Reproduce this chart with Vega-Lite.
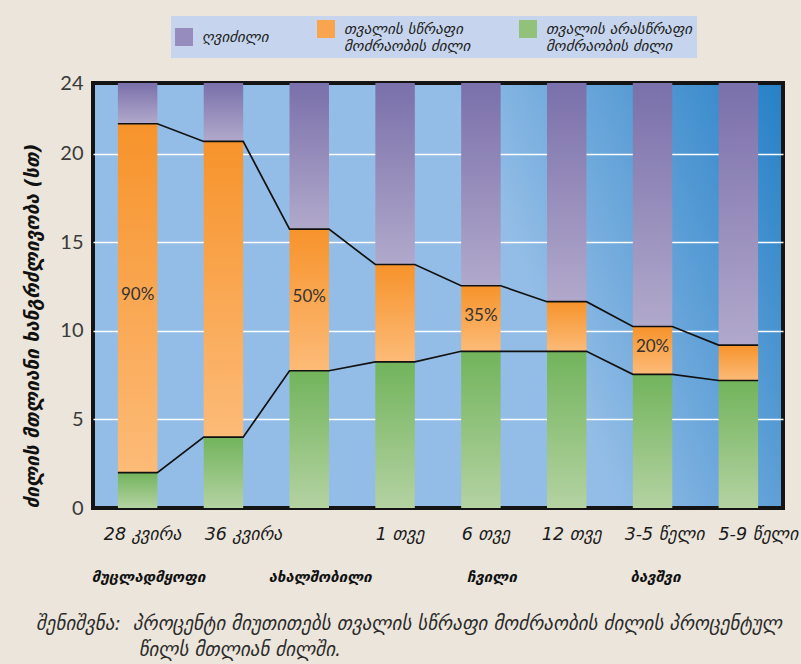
{
  "$schema": "https://vega.github.io/schema/vega-lite/v6.json",
  "width": 690,
  "height": 425,
  "autosize": {"type": "none"},
  "padding": {"left": 93, "top": 83, "right": 18, "bottom": 156},
  "background": "#ebe5db",
  "view": {
    "fill": {
      "gradient": "linear",
      "x1": 0.64, "y1": 0.5, "x2": 1.095, "y2": 0.3875,
      "stops": [
        {"offset": 0, "color": "#93bde6"},
        {"offset": 1, "color": "#2680c6"}
      ]
    },
    "stroke": "#141414",
    "strokeWidth": 4
  },
  "title": {
    "text": [
      "შენიშვნა:\u00a0 პროცენტი მიუთითებს თვალის სწრაფი მოძრაობის ძილის პროცენტულ",
      "\u200b\u00a0\u00a0\u00a0\u00a0\u00a0\u00a0\u00a0\u00a0\u00a0\u00a0\u00a0\u00a0\u00a0\u00a0\u00a0\u00a0\u00a0წილს მთლიან ძილში."
    ],
    "orient": "bottom",
    "anchor": "start",
    "frame": "group",
    "dx": -57,
    "offset": 31,
    "font": "DejaVu Sans",
    "fontSize": 19,
    "fontStyle": "italic",
    "fontWeight": "normal",
    "color": "#2b2b2b",
    "lineHeight": 26
  },
  "data": {
    "values": [
      {"stage": "28 კვირა", "nrem": 2.0, "sleep": 21.7, "pct": "90%"},
      {"stage": "36 კვირა", "nrem": 4.0, "sleep": 20.7},
      {"stage": "ახალშობილი", "nrem": 7.75, "sleep": 15.75, "pct": "50%"},
      {"stage": "1 თვე", "nrem": 8.25, "sleep": 13.75},
      {"stage": "6 თვე", "nrem": 8.85, "sleep": 12.55, "pct": "35%"},
      {"stage": "12 თვე", "nrem": 8.85, "sleep": 11.65},
      {"stage": "3-5 წელი", "nrem": 7.55, "sleep": 10.25, "pct": "20%"},
      {"stage": "5-9 წელი", "nrem": 7.2, "sleep": 9.2}
    ]
  },
  "resolve": {"axis": {"x": "independent"}},
  "layer": [
    {
      "mark": {
        "type": "bar",
        "fill": {
          "gradient": "linear", "x1": 0, "y1": 0, "x2": 0, "y2": 1,
          "stops": [{"offset": 0, "color": "#7a70ab"}, {"offset": 1, "color": "#b1a9cb"}]
        }
      },
      "encoding": {
        "x": {
          "field": "stage", "type": "ordinal", "sort": null,
          "scale": {"type": "band", "domain": ["28 კვირა", "36 კვირა", "ახალშობილი", "1 თვე", "6 თვე", "12 თვე", "3-5 წელი", "5-9 წელი"], "paddingInner": 0.54, "paddingOuter": 0.29},
          "axis": {
            "orient": "bottom", "title": null, "labelAngle": 0,
            "labelExpr": "datum.value === 'ახალშობილი' ? '' : datum.value",
            "labelFontSize": 17.5, "labelFontStyle": "italic", "labelColor": "#1a1a1a",
            "labelPadding": 17,
            "labelOffset": {"condition": [
              {"test": "datum.value === '36 კვირა' || datum.value === '5-9 წელი'", "value": 20},
              {"test": "datum.value === '3-5 წელი'", "value": 12}
            ], "value": 5},
            "ticks": false, "domain": false, "grid": false, "labelOverlap": false
          }
        },
        "y": {
          "field": "sleep", "type": "quantitative", "title": "ძილის მთლიანი ხანგრძლივობა (სთ)",
          "scale": {"domain": [0, 24], "nice": false, "zero": true},
          "axis": {"values": [0, 5, 10, 15, 20, 24], "gridOpacity": {"condition": {"test": "datum.value === 0 || datum.value === 24", "value": 0}, "value": 1}}
        },
        "y2": {"datum": 24}
      }
    },
    {
      "mark": {
        "type": "bar",
        "fill": {
          "gradient": "linear", "x1": 0, "y1": 0, "x2": 0, "y2": 1,
          "stops": [{"offset": 0, "color": "#f7932b"}, {"offset": 1, "color": "#fcbb78"}]
        }
      },
      "encoding": {
        "x": {"field": "stage", "type": "ordinal", "sort": null, "scale": {"type": "band"}, "axis": null},
        "y": {
          "field": "nrem", "type": "quantitative", "title": "ძილის მთლიანი ხანგრძლივობა (სთ)",
          "axis": {"values": [0, 5, 10, 15, 20, 24], "gridOpacity": {"condition": {"test": "datum.value === 0 || datum.value === 24", "value": 0}, "value": 1}}
        },
        "y2": {"field": "sleep"}
      }
    },
    {
      "mark": {
        "type": "bar",
        "fill": {
          "gradient": "linear", "x1": 0, "y1": 0, "x2": 0, "y2": 1,
          "stops": [{"offset": 0, "color": "#72b45c"}, {"offset": 1, "color": "#b4d2a2"}]
        }
      },
      "encoding": {
        "x": {"field": "stage", "type": "ordinal", "sort": null, "scale": {"type": "band"}, "axis": null},
        "y": {
          "field": "nrem", "type": "quantitative", "stack": null, "title": "ძილის მთლიანი ხანგრძლივობა (სთ)",
          "axis": {"values": [0, 5, 10, 15, 20, 24], "gridOpacity": {"condition": {"test": "datum.value === 0 || datum.value === 24", "value": 0}, "value": 1}}
        }
      }
    },
    {
      "mark": {"type": "bar", "opacity": 0},
      "encoding": {
        "x": {"field": "stage", "type": "ordinal", "sort": null, "scale": {"type": "band"}, "axis": null},
        "y": {
          "field": "nrem", "type": "quantitative", "stack": null, "title": "ძილის მთლიანი ხანგრძლივობა (სთ)",
          "axis": {"values": [0, 5, 10, 15, 20, 24], "gridOpacity": {"condition": {"test": "datum.value === 0 || datum.value === 24", "value": 0}, "value": 1}}
        },
        "fill": {
          "datum": "awake",
          "scale": {"domain": ["awake", "rem", "nrem"], "range": ["#968dbe", "#f9a44f", "#92c17b"]},
          "legend": {
            "title": null,
            "orient": "none", "legendX": 78, "legendY": -67,
            "direction": "horizontal", "columns": 3, "columnPadding": 48,
            "fillColor": "#c6d5ed", "padding": 4,
            "symbolType": "square", "symbolSize": 324, "symbolStrokeWidth": 0, "symbolOpacity": 1,
            "labelFont": "DejaVu Sans", "labelFontSize": 15, "labelFontStyle": "italic", "labelColor": "#222222", "labelLimit": 0, "labelOffset": 9,
            "labelExpr": "datum.value === 'awake' ? 'ღვიძილი' : datum.value === 'rem' ? ['თვალის სწრაფი', 'მოძრაობის ძილი'] : ['თვალის არასწრაფი', 'მოძრაობის ძილი']",
            "encode": {"labels": {"lineHeight": {"value": 21}}}
          }
        }
      }
    },
    {
      "transform": [
        {"fold": ["nrem", "sleep"], "as": ["boundary", "hours"]},
        {"calculate": "['start', 'end']", "as": "edge"},
        {"flatten": ["edge"]}
      ],
      "mark": {"type": "line", "color": "#111111", "strokeWidth": 1.7},
      "encoding": {
        "x": {
          "field": "stage", "type": "ordinal", "sort": null, "scale": {"type": "band"},
          "axis": {
            "orient": "bottom", "title": null, "labelAngle": 0,
            "labelExpr": "datum.value === '28 კვირა' ? 'მუცლადმყოფი' : datum.value === 'ახალშობილი' ? 'ახალშობილი' : datum.value === '6 თვე' ? 'ჩვილი' : datum.value === '3-5 წელი' ? 'ბავშვი' : ''",
            "labelFontSize": 15, "labelFontStyle": "italic", "labelFontWeight": "bold", "labelColor": "#111111",
            "labelPadding": 61,
            "labelOffset": {"condition": {"test": "datum.value === '3-5 წელი'", "value": 3}, "value": 11},
            "ticks": false, "domain": false, "grid": false, "labelOverlap": false
          }
        },
        "xOffset": {"field": "edge", "type": "nominal", "scale": {"type": "band", "domain": ["start", "end"], "paddingInner": 1, "paddingOuter": 0}},
        "y": {
          "field": "hours", "type": "quantitative", "title": "ძილის მთლიანი ხანგრძლივობა (სთ)",
          "axis": {"values": [0, 5, 10, 15, 20, 24], "gridOpacity": {"condition": {"test": "datum.value === 0 || datum.value === 24", "value": 0}, "value": 1}}
        },
        "detail": {"field": "boundary"},
        "order": {"value": null}
      }
    },
    {
      "transform": [
        {"filter": "isValid(datum.pct)"},
        {"calculate": "(datum.nrem + datum.sleep) / 2", "as": "labelY"}
      ],
      "mark": {"type": "text", "fontSize": 17, "color": "#333333", "font": "Lato", "dy": -3},
      "encoding": {
        "x": {"field": "stage", "type": "ordinal", "sort": null, "scale": {"type": "band"}, "axis": null},
        "y": {
          "field": "labelY", "type": "quantitative", "title": "ძილის მთლიანი ხანგრძლივობა (სთ)",
          "axis": {"values": [0, 5, 10, 15, 20, 24], "gridOpacity": {"condition": {"test": "datum.value === 0 || datum.value === 24", "value": 0}, "value": 1}}
        },
        "text": {"field": "pct"}
      }
    }
  ],
  "config": {
    "font": "DejaVu Sans",
    "axisY": {
      "labelFont": "Lato", "labelFontSize": 20, "labelColor": "#3a3a3a", "labelPadding": 10,
      "ticks": false, "domain": false,
      "gridColor": "#ffffff", "gridWidth": 1.5,
      "titleFontSize": 19, "titleFontWeight": "bold", "titleFontStyle": "italic", "titleColor": "#111111",
      "titleX": -61, "titleAnchor": "start", "titleBaseline": "middle"
    }
  }
}
